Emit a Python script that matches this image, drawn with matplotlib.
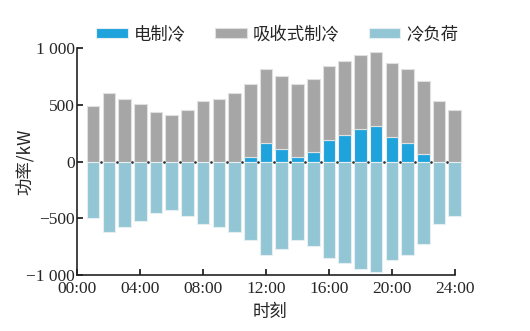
import numpy as np
import matplotlib.pyplot as plt
from matplotlib.ticker import FuncFormatter

plt.rcParams['font.family'] = ['Liberation Serif', 'Noto Sans CJK SC']
plt.rcParams['axes.unicode_minus'] = True

hours = np.arange(1, 25)
# electric chiller output, kW
elec = [0, 0, 0, 0, 0, 0, 0, 0, 0, 0, 41, 161, 114, 41, 88, 188, 238, 287,
        314, 214, 161, 65, 0, 0]
# total supply (electric + absorption), kW
total = [487, 610, 557, 510, 434, 411, 460, 537, 557, 610, 683, 815, 757, 683,
         733, 842, 891, 941, 968, 868, 815, 713, 537, 460]
absorb = [t - e for t, e in zip(total, elec)]
# cooling load (drawn negative), kW
load = [501, 622, 575, 525, 452, 425, 475, 551, 575, 622, 695, 824, 771, 695,
        748, 848, 897, 947, 974, 871, 824, 724, 551, 475]

xticks = [0, 4, 8, 12, 16, 20, 24]
xtick_labels = ['00:00', '04:00', '08:00', '12:00', '16:00', '20:00', '24:00']
yticks = [-1000, -500, 0, 500, 1000]

c_elec = '#1fa3dc'
c_abs = '#a6a6a6'
c_load = '#92c6d4'
txt = '#262626'

fig = plt.figure(figsize=(5.3, 3.31), dpi=100)
ax = fig.add_axes([0.146, 0.169, 0.712, 0.685])

w = 0.8
ax.bar(hours, elec, w, color=c_elec, edgecolor='#e6eef2', linewidth=0.8,
       label='电制冷', clip_on=False)
ax.bar(hours, absorb, w, bottom=elec, color=c_abs, edgecolor='#e0e0e0',
       linewidth=0.8, label='吸收式制冷', clip_on=False)
ax.bar(hours, -np.array(load), w, color=c_load, edgecolor='#e6eef2',
       linewidth=0.8, label='冷负荷', clip_on=False)

# small dots along the zero line between bars
ax.plot(hours[:-1] + 0.5, np.zeros(len(hours) - 1), 'o', color='#333333',
        markersize=0.9, zorder=5)

ax.set_xlim(0, 24)
ax.set_ylim(-1000, 1000)
ax.set_xticks(xticks)
ax.set_xticklabels(xtick_labels)
ax.set_yticks(yticks)
ax.yaxis.set_major_formatter(FuncFormatter(
    lambda v, p: ('\u2212' if v < 0 else '') +
    ('{:,}'.format(int(abs(v))).replace(',', ' '))))

for s in ['top', 'right']:
    ax.spines[s].set_visible(False)
for s in ['left', 'bottom']:
    ax.spines[s].set_linewidth(1.2)
    ax.spines[s].set_color('#222222')
ax.tick_params(direction='in', length=4, width=1.1, labelsize=12.5,
               labelcolor=txt, pad=2)
ax.tick_params(axis='x', pad=4)

ax.set_xlabel('时刻', fontsize=12.5, color=txt, family='Noto Sans CJK SC')
ax.set_ylabel('功率/kW', fontsize=12.5, color=txt,
              family=['Noto Sans CJK SC', 'Liberation Serif'])
ax.xaxis.set_label_coords(0.51, -0.125)
ax.yaxis.set_label_coords(-0.115, 0.5)

leg = ax.legend(loc='lower center', bbox_to_anchor=(0.53, 0.985), ncol=3,
                frameon=False, handlelength=1.8,
                handleheight=0.5, columnspacing=1.7, handletextpad=0.35,
                borderaxespad=0.1, prop={'family': 'Noto Sans CJK SC',
                                         'size': 12.5})
for t in leg.get_texts():
    t.set_color(txt)

fig.savefig('out.png', dpi=100)
